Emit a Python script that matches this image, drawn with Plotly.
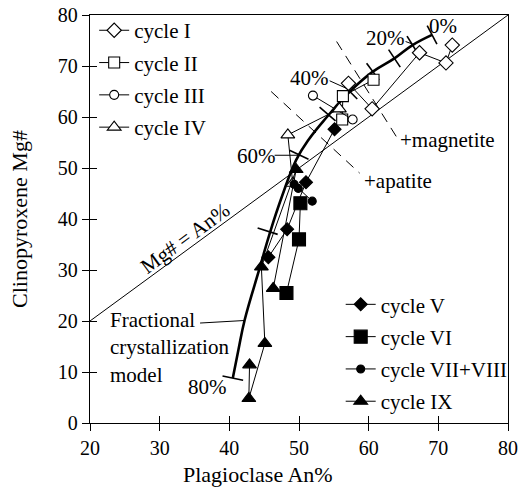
import numpy as np
import plotly.graph_objects as go

FONT = "'Liberation Serif', 'Times New Roman', 'DejaVu Serif', serif"

# ---- data (Plagioclase An%, Clinopyroxene Mg#) ----
cyc1_an = [72.0, 71.1, 67.3, 60.5, 57.1]
cyc1_mg = [74.1, 70.6, 72.6, 61.6, 66.6]
cyc2_an = [60.7, 56.3, 56.2]
cyc2_mg = [67.3, 64.1, 59.5]
cyc3_an = [52.0, 57.7]
cyc3_mg = [64.2, 59.5]
cyc4_an = [55.8, 48.4, 49.1]
cyc4_mg = [61.6, 56.5, 47.0]
cyc5_an = [55.1, 51.0, 48.3, 45.6]
cyc5_mg = [57.6, 47.2, 38.0, 32.5]
cyc6_an = [50.2, 50.0, 48.2]
cyc6_mg = [43.1, 36.0, 25.5]
cyc78_an = [49.3, 49.9, 51.9]
cyc78_mg = [46.8, 46.0, 43.5]
cyc9_an = [42.9, 42.8, 45.1, 44.6, 49.6, 46.3]
cyc9_mg = [11.4, 4.8, 15.6, 30.6, 49.7, 26.4]

# fractional crystallization model curve
model_an = [69.1, 66.3, 63.7, 60.6, 57.3, 54.0, 51.4, 49.6, 47.6, 45.8, 44.4, 42.2, 41.3, 40.5]
model_mg = [76.1, 74.1, 71.5, 68.9, 65.0, 60.0, 55.6, 51.6, 44.6, 37.2, 30.6, 20.2, 14.3, 8.8]
tick_an = [69.1, 66.3, 63.7, 60.6, 57.3, 54.1, 50.0, 45.5, 40.5]
tick_mg = [76.1, 74.1, 71.5, 68.9, 65.0, 60.6, 52.6, 37.6, 8.8]

# Mg# = An% line
eq_line = [20, 80]

# phase-in boundaries (dashed)
magnetite_an = [55.4, 64.0]
magnetite_mg = [74.8, 56.1]
apatite_an = [46.0, 58.7]
apatite_mg = [65.0, 49.0]

# label leader lines
lead20_an = [65.3, 66.3]
lead20_mg = [74.8, 74.3]
lead40_an = [54.4, 57.0]
lead40_mg = [67.1, 65.5]
lead60_an = [46.5, 50.0]
lead60_mg = [52.5, 52.5]
leadfc_an = [35.8, 42.2]
leadfc_mg = [19.6, 20.1]

fig = go.Figure()

def add_line(xs, ys, width=1.0, dash="solid", shape="linear", smoothing=1.0):
    fig.add_trace(go.Scatter(x=xs, y=ys, mode="lines", showlegend=False, hoverinfo="skip",
                             line=dict(color="black", width=width, dash=dash, shape=shape,
                                       smoothing=smoothing)))

add_line(eq_line, eq_line, 1.0)
add_line(magnetite_an, magnetite_mg, 1.0, dash="10px,7px")
add_line(apatite_an, apatite_mg, 1.0, dash="10px,7px")
add_line(model_an, model_mg, 2.6, shape="spline", smoothing=1.2)
for xs, ys in [(lead20_an, lead20_mg), (lead40_an, lead40_mg), (lead60_an, lead60_mg), (leadfc_an, leadfc_mg)]:
    add_line(xs, ys, 1.0)

# ticks on the model curve, perpendicular to the curve (pixel space)
sx, sy = 418.5 / 60.0, 408.0 / 80.0
m_an, m_mg = np.array(model_an), np.array(model_mg)
angles = []
for ta, tm in zip(tick_an, tick_mg):
    k = int(np.argmin((m_an - ta) ** 2 + (m_mg - tm) ** 2))
    k0, k1 = max(k - 1, 0), min(k + 1, len(m_an) - 1)
    dxp = (m_an[k1] - m_an[k0]) * sx
    dyp = (m_mg[k1] - m_mg[k0]) * sy
    phi = np.degrees(np.arctan2(dyp, dxp))
    angles.append(-(phi + 90.0))
fig.add_trace(go.Scatter(x=tick_an, y=tick_mg, mode="markers", showlegend=False, hoverinfo="skip",
                         marker=dict(symbol="line-ew", size=15, angle=angles,
                                     line=dict(color="black", width=1.6))))

series = [
    ("cycle I", cyc1_an, cyc1_mg, "diamond", 11, "white", "legend"),
    ("cycle II", cyc2_an, cyc2_mg, "square", 11, "white", "legend"),
    ("cycle III", cyc3_an, cyc3_mg, "circle", 9, "white", "legend"),
    ("cycle IV", cyc4_an, cyc4_mg, "triangle-up", 12, "white", "legend"),
    ("cycle V", cyc5_an, cyc5_mg, "diamond", 10, "black", "legend2"),
    ("cycle VI", cyc6_an, cyc6_mg, "square", 13, "black", "legend2"),
    ("cycle VII+VIII", cyc78_an, cyc78_mg, "circle", 8, "black", "legend2"),
    ("cycle IX", cyc9_an, cyc9_mg, "triangle-up", 12, "black", "legend2"),
]
for name, xs, ys, sym, size, fill, lg in series:
    fig.add_trace(go.Scatter(
        x=xs, y=ys, mode="lines+markers", name=name, legend=lg, legendgroup=name,
        line=dict(color="black", width=1.0),
        marker=dict(symbol=sym, size=size, color=fill, line=dict(color="black", width=1.1)),
    ))

# dummy trace for the overlaid axes (inner half of crossing ticks)
fig.add_trace(go.Scatter(x=[None], y=[None], xaxis="x2", yaxis="y2", showlegend=False, hoverinfo="skip"))

tf = dict(family=FONT, size=21, color="black")
title_font = dict(family=FONT, size=22, color="black")
axis_common = dict(showgrid=False, zeroline=False, showline=True, linecolor="black", linewidth=1.3,
                   ticks="outside", ticklen=7, tickwidth=1.2, tickcolor="black", mirror=True,
                   tickfont=dict(family=FONT, size=20, color="black"), dtick=10, automargin=False)
fig.update_layout(
    width=521, height=489,
    margin=dict(l=90, r=12.5, t=15, b=66, autoexpand=False),
    plot_bgcolor="white", paper_bgcolor="white",
    font=tf,
    xaxis=dict(range=[20, 80], **axis_common),
    yaxis=dict(range=[0, 80], **axis_common),
    xaxis2=dict(range=[20, 80], overlaying="x", side="bottom", anchor="y2", showgrid=False, zeroline=False,
                showline=False, ticks="inside", ticklen=7, tickwidth=1.2, tickcolor="black",
                showticklabels=False, dtick=10, automargin=False),
    yaxis2=dict(range=[0, 80], overlaying="y", side="left", anchor="x2", showgrid=False, zeroline=False,
                showline=False, ticks="inside", ticklen=7, tickwidth=1.2, tickcolor="black",
                showticklabels=False, dtick=10, automargin=False),
    legend=dict(x=0.01, y=1.012, xanchor="left", yanchor="top", bgcolor="rgba(0,0,0,0)",
                font=tf, itemwidth=30, tracegroupgap=2, traceorder="grouped"),
    legend2=dict(x=(341 - 90) / 418.5, y=0.002, xanchor="left", yanchor="bottom", bgcolor="rgba(0,0,0,0)",
                 font=tf, itemwidth=30, tracegroupgap=2, traceorder="grouped"),
)

ann = [
    dict(x=70.6, y=77.8, text="0%"),
    dict(x=62.4, y=75.4, text="20%"),
    dict(x=51.5, y=67.6, text="40%"),
    dict(x=43.9, y=52.4, text="60%"),
    dict(x=36.9, y=7.1, text="80%"),
]
for a in ann:
    fig.add_annotation(x=a["x"], y=a["y"], text=a["text"], showarrow=False, font=tf)

fig.add_annotation(x=64.2, y=55.5, text="+magnetite", showarrow=False, xanchor="left", font=tf)
fig.add_annotation(x=59.1, y=47.4, text="+apatite", showarrow=False, xanchor="left", font=tf)
fig.add_annotation(x=22.6, y=14.8, text="Fractional<br>crystallization<br>model", showarrow=False,
                   xanchor="left", align="left", font=tf)
fig.add_annotation(x=33.7, y=36.3, text="Mg# = An%", showarrow=False, textangle=-36.2, font=tf)

fig.add_annotation(xref="paper", yref="paper", x=(258 - 90) / 418.5, y=-(474 - 423) / 408.0,
                   yanchor="middle", text="Plagioclase An%", showarrow=False, font=title_font)
fig.add_annotation(xref="paper", yref="paper", x=-0.17, y=0.5, xanchor="center",
                   text="Clinopyroxene Mg#", textangle=-90, showarrow=False, font=title_font)

fig.write_html("out.html")
